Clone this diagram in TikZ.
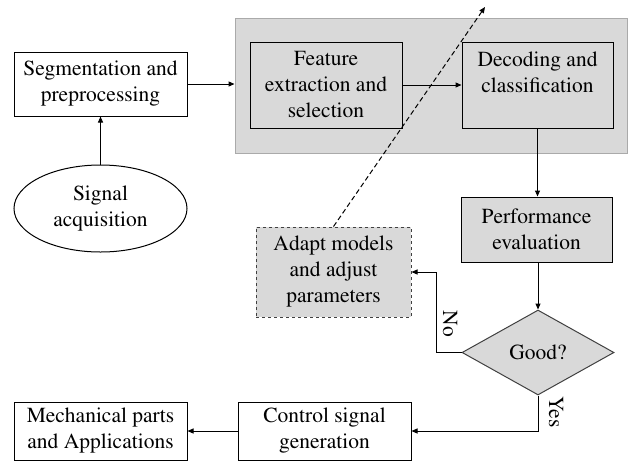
\documentclass[tikz,border=0pt]{standalone}
\usepackage[T1]{fontenc}
\renewcommand{\rmdefault}{ptm}
\usepackage{tikz}
\usetikzlibrary{shapes.geometric, arrows.meta, positioning}
\definecolor{boxgray}{RGB}{217,217,217}
\definecolor{framegray}{RGB}{170,170,170}

\begin{document}
\begin{tikzpicture}[x=1pt,y=-1pt,
  font=\rmfamily\fontsize{21.5}{26}\selectfont,
  block/.style={draw,line width=1pt,align=center,inner sep=2pt},
  arr/.style={-{Triangle[length=6pt,width=5pt]},line width=1pt}]
\useasboundingbox (0,0) rectangle (628,461);

% Processing panel
\node[draw=framegray,line width=1pt,fill=boxgray,minimum width=392pt,minimum height=135pt] (panel) at (431,85.5) {};
\node[block,fill=boxgray,minimum width=152pt,minimum height=86pt] (feat) at (326,85) {Feature\\extraction and\\selection};
\node[block,fill=boxgray,minimum width=151pt,minimum height=86pt] (dec) at (537.5,85) {Decoding and\\classification\\~};

% Input side
\node[block,minimum width=173pt,minimum height=64pt] (seg) at (100.5,84) {Segmentation and\\preprocessing};
\node[block,ellipse,inner sep=0pt,minimum width=173pt,minimum height=87pt] (sig) at (100.5,208.5) {Signal\\acquisition};

% Evaluation loop
\node[block,fill=boxgray,minimum width=151pt,minimum height=65pt] (perf) at (536.5,229.5) {Performance\\evaluation};
\node[block,dashed,draw=black!75,fill=boxgray,minimum width=155pt,minimum height=90pt] (adapt) at (333.5,272) {Adapt models\\and adjust\\parameters};
\node[block,diamond,fill=boxgray,draw=black!75,inner sep=0pt,minimum width=152pt,minimum height=85pt] (good) at (538,352.5) {Good?};
\node[rotate=-90] (no) at (450,324) {No};
\node[rotate=-90] (yes) at (556,412) {Yes};

% Output side
\node[block,minimum width=173pt,minimum height=58pt] (ctrl) at (324.5,431) {Control signal\\generation};
\node[block,minimum width=173pt,minimum height=58pt] (mech) at (100.5,431) {Mechanical parts\\and Applications};
\coordinate (back) at (485,7);

% Connectors
\draw[arr] (sig.north) -- (seg.south);
\draw[arr] (seg.east) -- (seg.east -| panel.west);
\draw[arr] (feat.east) -- (feat.east -| dec.west);
\draw[arr] (dec.south) -- (dec.south |- perf.north);
\draw[arr] (perf.south -| good.north) -- (good.north);
\draw[arr] (good.west) -- ++(-25,0) |- (adapt.east);
\draw[arr] (good.south) |- (ctrl.east);
\draw[arr] (ctrl.west) -- (mech.east);
\draw[arr,dashed,dash pattern=on 5pt off 3pt] (adapt.north) -- (back);
\end{tikzpicture}
\end{document}
